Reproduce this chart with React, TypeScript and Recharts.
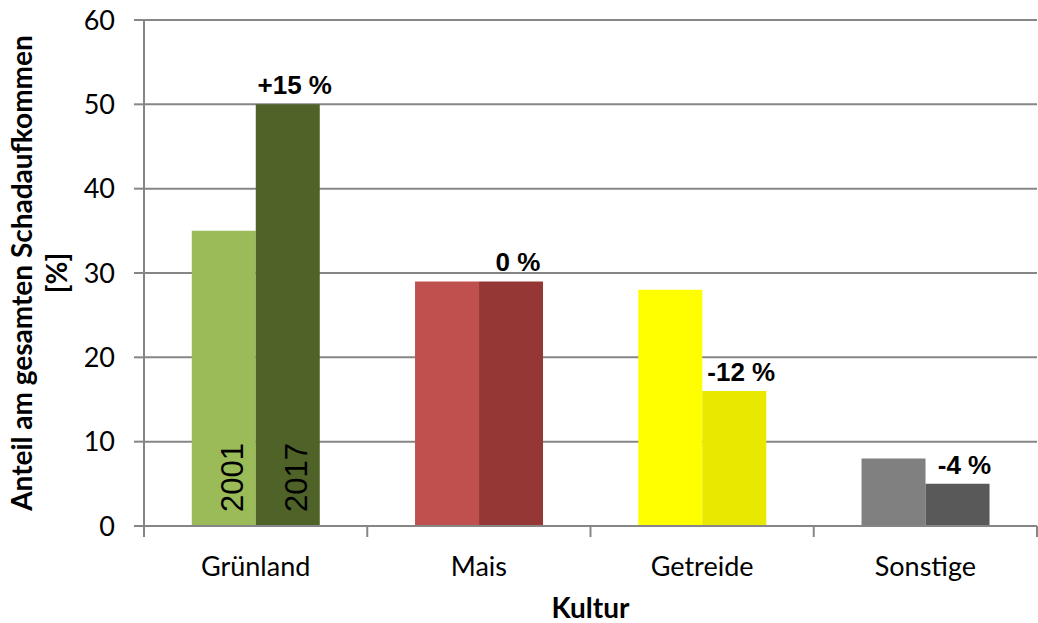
import { BarChart, Bar, XAxis, YAxis, CartesianGrid, Cell, LabelList, Label } from "recharts";

const kulturen = ["Grünland", "Mais", "Getreide", "Sonstige"];
const anteil2001 = [35, 29, 28, 8];
const anteil2017 = [50, 29, 16, 5];
const veraenderung = ["+15 %", "0 %", "-12 %", "-4 %"];
const yTicks = [0, 10, 20, 30, 40, 50, 60];

const farben2001 = ["#9BBB59", "#C0504D", "#FFFF00", "#808080"];
const farben2017 = ["#4F6228", "#953735", "#E8E800", "#595959"];

const data = kulturen.map((k, i) => ({
  kultur: k,
  y2001: anteil2001[i],
  y2017: anteil2017[i],
  change: veraenderung[i],
}));

const W = 1038;
const H = 623;
const MARGIN = { top: 20, right: 1, bottom: 0, left: 0 };
const Y_WIDTH = 144;
const X_HEIGHT = 97;
const AXIS = "#868686";
const BAND = (W - MARGIN.left - MARGIN.right - Y_WIDTH) / kulturen.length;
const CAL = "Lato, 'Open Sans', sans-serif";
const ARIAL = "'Liberation Sans', Arial, sans-serif";

const KulturTick = (props: any) => {
  const { x, y, payload, index } = props;
  const left = x - BAND / 2;
  const right = x + BAND / 2;
  return (
    <g>
      <line x1={left} x2={left} y1={y} y2={y + 11} stroke={AXIS} strokeWidth={2} />
      {index === kulturen.length - 1 && (
        <line x1={right} x2={right} y1={y} y2={y + 11} stroke={AXIS} strokeWidth={2} />
      )}
      <text x={x} y={y + 50} textAnchor="middle" fontFamily={CAL} fontSize={27} fill="#000">
        {payload.value}
      </text>
    </g>
  );
};

const YTitle = (props: any) => {
  const { viewBox } = props;
  const cy = viewBox.y + viewBox.height / 2;
  return (
    <g>
      <text
        transform={`rotate(-90, 32, ${cy})`}
        x={32}
        y={cy}
        textAnchor="middle"
        fontFamily={CAL}
        fontWeight="bold"
        fontSize={28}
        fill="#000"
      >
        Anteil am gesamten Schadaufkommen
      </text>
      <text
        transform={`rotate(-90, 67, ${cy})`}
        x={67}
        y={cy}
        textAnchor="middle"
        fontFamily={CAL}
        fontWeight="bold"
        fontSize={28}
        fill="#000"
      >
        [%]
      </text>
    </g>
  );
};

const XTitle = (props: any) => {
  const { viewBox } = props;
  return (
    <text
      x={viewBox.x + viewBox.width / 2}
      y={viewBox.y + 92}
      textAnchor="middle"
      fontFamily={CAL}
      fontWeight="bold"
      fontSize={28}
      fill="#000"
    >
      Kultur
    </text>
  );
};

const ChangeLabel = (props: any) => {
  const { x, y, width, value } = props;
  return (
    <text
      x={x + width / 2 + 7}
      y={y - 10}
      textAnchor="middle"
      fontFamily={ARIAL}
      fontWeight="bold"
      fontSize={26}
      fill="#000"
    >
      {value}
    </text>
  );
};

const yearLabel = (year: string) => (props: any) => {
  const { x, y, width, height, index } = props;
  if (index !== 0) return null;
  const bx = x + width / 2 + 19;
  const by = y + height - 14;
  return (
    <text
      transform={`rotate(-90, ${bx}, ${by})`}
      x={bx}
      y={by}
      textAnchor="start"
      fontFamily={ARIAL}
      fontSize={31}
      fill="#000"
    >
      {year}
    </text>
  );
};

export default function App() {
  return (
    <div style={{ position: "absolute", left: 0, top: 0, background: "#fff" }}>
      <BarChart
        width={W}
        height={H}
        data={data}
        margin={MARGIN}
        barCategoryGap="21.4%"
        barGap={0}
      >
        <CartesianGrid vertical={false} stroke={AXIS} strokeWidth={2} />
        <XAxis
          dataKey="kultur"
          height={X_HEIGHT}
          axisLine={{ stroke: AXIS, strokeWidth: 2 }}
          tickLine={false}
          tickSize={0}
          tickMargin={0}
          tick={<KulturTick />}
          interval={0}
        >
          <Label content={<XTitle />} />
        </XAxis>
        <YAxis
          width={Y_WIDTH}
          domain={[0, 60]}
          ticks={yTicks}
          interval={0}
          axisLine={{ stroke: AXIS, strokeWidth: 2 }}
          tickLine={{ stroke: AXIS, strokeWidth: 2 }}
          tickSize={10}
          tickMargin={19}
          tick={{ fill: "#000", fontFamily: CAL, fontSize: 27 }}
        >
          <Label content={<YTitle />} />
        </YAxis>
        <Bar dataKey="y2001" isAnimationActive={false}>
          {data.map((_, i) => (
            <Cell key={i} fill={farben2001[i]} />
          ))}
          <LabelList dataKey="y2001" content={yearLabel("2001")} />
        </Bar>
        <Bar dataKey="y2017" isAnimationActive={false}>
          {data.map((_, i) => (
            <Cell key={i} fill={farben2017[i]} />
          ))}
          <LabelList dataKey="y2017" content={yearLabel("2017")} />
          <LabelList dataKey="change" content={ChangeLabel} />
        </Bar>
      </BarChart>
    </div>
  );
}
